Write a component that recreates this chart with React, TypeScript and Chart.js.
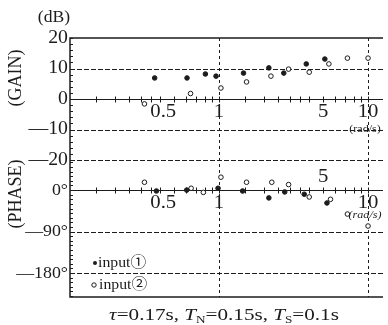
import { useEffect, useRef } from 'react';
import { Chart, registerables } from 'chart.js';
Chart.register(...registerables);

// Frequencies (rad/s) and values
const gainFreq1 = [0.37, 0.61, 0.81, 0.955, 1.46, 2.16, 2.72, 3.85, 5.13];
const gainInput1 = [6.9, 6.9, 8.2, 7.5, 8.5, 10.2, 8.5, 11.5, 13.1];
const gainFreq2 = [0.316, 0.644, 1.03, 1.53, 2.23, 2.93, 4.03, 5.46, 7.27, 10];
const gainInput2 = [-1.6, 1.8, 3.6, 5.6, 7.5, 9.8, 8.8, 11.5, 13.4, 13.4];
const phaseFreq1 = [0.38, 0.607, 0.985, 1.44, 2.16, 2.76, 3.73, 5.3];
const phaseInput1 = [-2, 0, 4, -2, -17, -4, -9, -28];
const phaseFreq2 = [0.316, 0.65, 0.785, 1.03, 1.53, 2.26, 2.93, 4.03, 5.6, 7.27, 10];
const phaseInput2 = [17, 4, -5, 28, 17, 17, 12, -15, -20, -52, -78];

const gainTicks = [20, 10, 0, -10, -20];
const gainGrid = [10, -10, -20];
const phaseTicks = [0, -90, -180];
const phaseGrid = [-90, -180];
const freqLabels = [0.5, 1, 5, 10];
const freqGrid = [1, 10];
const freqMinorTicks = [0.15, 0.2, 0.25, 0.3, 0.35, 0.4, 0.5, 0.6, 0.7, 0.8, 0.9, 1, 1.5, 2, 2.5, 3, 3.5, 4, 5, 6, 7, 8, 9, 10];

const INK = '#1c1c1c';
const SERIF = '"Liberation Serif", "DejaVu Serif", "Noto Sans CJK JP", serif';

function txt(ctx: CanvasRenderingContext2D, s: string, x: number, y: number, size: number,
  align: CanvasTextAlign = 'center', sx = 1.15, italic = false) {
  ctx.save();
  ctx.font = `${italic ? 'italic ' : ''}${size}px ${SERIF}`;
  ctx.textBaseline = 'middle';
  ctx.textAlign = align;
  ctx.fillStyle = INK;
  ctx.translate(x, y);
  ctx.scale(sx, 1);
  ctx.fillText(s, 0, 0);
  ctx.restore();
}

const bodePlugin = {
  id: 'bode',
  beforeDatasetsDraw(chart: any) {
    const ctx: CanvasRenderingContext2D = chart.ctx;
    const { left, right, top, bottom } = chart.chartArea;
    const x = chart.scales.x, yG = chart.scales.yG, yP = chart.scales.yP;
    ctx.save();
    ctx.strokeStyle = INK;
    // dashed horizontal grid
    ctx.lineWidth = 1;
    ctx.setLineDash([5, 2]);
    const hline = (py: number) => { ctx.beginPath(); ctx.moveTo(left, py); ctx.lineTo(right, py); ctx.stroke(); };
    gainGrid.forEach(v => hline(Math.round(yG.getPixelForValue(v)) + 0.5));
    phaseGrid.forEach(v => hline(Math.round(yP.getPixelForValue(v)) + 0.5));
    // vertical dashed lines
    ctx.setLineDash([3, 3]);
    freqGrid.forEach(f => {
      const px = Math.round(x.getPixelForValue(f)) + 0.5;
      ctx.beginPath(); ctx.moveTo(px, top); ctx.lineTo(px, bottom); ctx.stroke();
    });
    ctx.setLineDash([]);
    // frame
    ctx.lineWidth = 1.5;
    ctx.beginPath();
    ctx.moveTo(right, top); ctx.lineTo(left, top); ctx.lineTo(left, bottom); ctx.lineTo(right, bottom);
    ctx.stroke();
    // zero lines with ticks
    ctx.lineWidth = 1.2;
    [yG.getPixelForValue(0), yP.getPixelForValue(0)].forEach(py => {
      const yy = Math.round(py) + 0.5;
      ctx.beginPath(); ctx.moveTo(left, yy); ctx.lineTo(right, yy); ctx.stroke();
      ctx.lineWidth = 1;
      freqMinorTicks.forEach(f => {
        const px = Math.round(x.getPixelForValue(f)) + 0.5;
        ctx.beginPath(); ctx.moveTo(px, yy - 3); ctx.lineTo(px, yy + 3); ctx.stroke();
      });
      ctx.lineWidth = 1.2;
    });
    // left axis minor ticks
    ctx.lineWidth = 1;
    for (let v = 20; v >= -20; v -= 2) {
      const py = Math.round(yG.getPixelForValue(v)) + 0.5;
      ctx.beginPath(); ctx.moveTo(left, py); ctx.lineTo(left + 3, py); ctx.stroke();
    }
    for (let v = 60; v >= -230; v -= 10) {
      const py = Math.round(yP.getPixelForValue(v)) + 0.5;
      ctx.beginPath(); ctx.moveTo(left, py); ctx.lineTo(left + 3, py); ctx.stroke();
    }
    ctx.restore();
  },
  afterDatasetsDraw(chart: any) {
    const ctx: CanvasRenderingContext2D = chart.ctx;
    const { left } = chart.chartArea;
    const x = chart.scales.x, yG = chart.scales.yG, yP = chart.scales.yP;
    // y tick labels
    gainTicks.forEach(v => {
      const s = v < 0 ? '\u2014' + Math.abs(v) : String(v);
      txt(ctx, s, left - 2, yG.getPixelForValue(v), 18, 'right', 1.1);
    });
    phaseTicks.forEach(v => {
      const s = (v < 0 ? '\u2014' + Math.abs(v) : String(v)) + '\u00b0';
      txt(ctx, s, left - 2, yP.getPixelForValue(v), 17, 'right', 1.05);
    });
    // x labels on zero lines
    const g0 = yG.getPixelForValue(0), p0 = yP.getPixelForValue(0);
    freqLabels.forEach(f => {
      const px = x.getPixelForValue(f);
      const align: CanvasTextAlign = f < 1 ? 'right' : 'center';
      txt(ctx, String(f), px + (f < 1 ? 2 : 0), g0 + 13, 18, align);
      const py = f === 5 ? p0 - 13 : p0 + 13;
      txt(ctx, String(f), px + (f < 1 ? 2 : 0), py, 18, align);
    });
    const p10 = x.getPixelForValue(10);
    txt(ctx, '(rad/s)', p10 - 3, g0 + 30, 11, 'center', 1.1);
    txt(ctx, '(rad/s)', p10 - 3, p0 + 25, 11, 'center', 1.1, true);
    // axis titles
    txt(ctx, '(dB)', 54, 18, 16, 'center', 1.1);
    ctx.save();
    ctx.translate(16, 78); ctx.rotate(-Math.PI / 2);
    txt(ctx, '(GAIN)', 0, 0, 18, 'center', 1);
    ctx.restore();
    ctx.save();
    ctx.translate(16, 194); ctx.rotate(-Math.PI / 2);
    txt(ctx, '(PHASE)', 0, 0, 18, 'center', 1);
    ctx.restore();
    // legend
    ctx.save();
    ctx.fillStyle = INK; ctx.strokeStyle = INK; ctx.lineWidth = 1;
    ctx.beginPath(); ctx.arc(95, 263, 2, 0, Math.PI * 2); ctx.fill();
    ctx.beginPath(); ctx.arc(94, 285, 2.2, 0, Math.PI * 2); ctx.stroke();
    ctx.restore();
    txt(ctx, 'input\u2460', 98, 263, 15, 'left', 1.05);
    txt(ctx, 'input\u2461', 99, 285, 15, 'left', 1.05);
    // caption
    const parts: { t: string; it?: boolean; sub?: boolean }[] = [
      { t: '\u03c4', it: true }, { t: '=0.17s, ' }, { t: 'T', it: true }, { t: 'N', sub: true },
      { t: '=0.15s, ' }, { t: 'T', it: true }, { t: 'S', sub: true }, { t: '=0.1s' },
    ];
    ctx.save();
    const fontFor = (p: any) => `${p.it ? 'italic ' : ''}${p.sub ? 10 : 16}px ${SERIF}`;
    let total = 0;
    parts.forEach(p => { ctx.font = fontFor(p); total += ctx.measureText(p.t).width; });
    const sx = 1.32;
    let cx = 224 - (total * sx) / 2;
    ctx.fillStyle = INK; ctx.textBaseline = 'alphabetic'; ctx.textAlign = 'left';
    parts.forEach(p => {
      ctx.font = fontFor(p);
      const w = ctx.measureText(p.t).width;
      ctx.save(); ctx.translate(cx, p.sub ? 323 : 320); ctx.scale(sx, 1); ctx.fillText(p.t, 0, 0); ctx.restore();
      cx += w * sx;
    });
    ctx.restore();
  },
};

const pts = (xs: number[], ys: number[]) => xs.map((f, i) => ({ x: f, y: ys[i] }));

export default function App() {
  const ref = useRef<HTMLCanvasElement>(null);
  useEffect(() => {
    document.body.style.margin = '0';
    const filled = { pointRadius: 2.3, pointBackgroundColor: INK, pointBorderColor: INK, pointBorderWidth: 1, showLine: false };
    const open = { pointRadius: 2.3, pointBackgroundColor: '#ffffff', pointBorderColor: INK, pointBorderWidth: 1, showLine: false };
    const chart = new Chart(ref.current!, {
      type: 'scatter',
      data: {
        datasets: [
          { label: 'gain input1', data: pts(gainFreq1, gainInput1), yAxisID: 'yG', ...filled },
          { label: 'gain input2', data: pts(gainFreq2, gainInput2), yAxisID: 'yG', ...open },
          { label: 'phase input1', data: pts(phaseFreq1, phaseInput1), yAxisID: 'yP', ...filled },
          { label: 'phase input2', data: pts(phaseFreq2, phaseInput2), yAxisID: 'yP', ...open },
        ],
      },
      options: {
        animation: false,
        responsive: false,
        devicePixelRatio: 1,
        layout: { padding: { left: 70, top: 38, right: 0, bottom: 28 } },
        plugins: { legend: { display: false }, tooltip: { enabled: false } },
        scales: {
          x: { type: 'logarithmic', min: 0.1, max: 12.6, display: false },
          yG: { type: 'linear', min: -64.9, max: 20, display: false },
          yP: { type: 'linear', min: -232, max: 330, display: false },
        },
      } as any,
      plugins: [bodePlugin],
    });
    return () => chart.destroy();
  }, []);
  return (
    <div style={{ position: 'absolute', left: 0, top: 0, width: 388, height: 325, background: '#fff' }}>
      <canvas ref={ref} width={388} height={325} style={{ display: 'block' }} />
    </div>
  );
}
